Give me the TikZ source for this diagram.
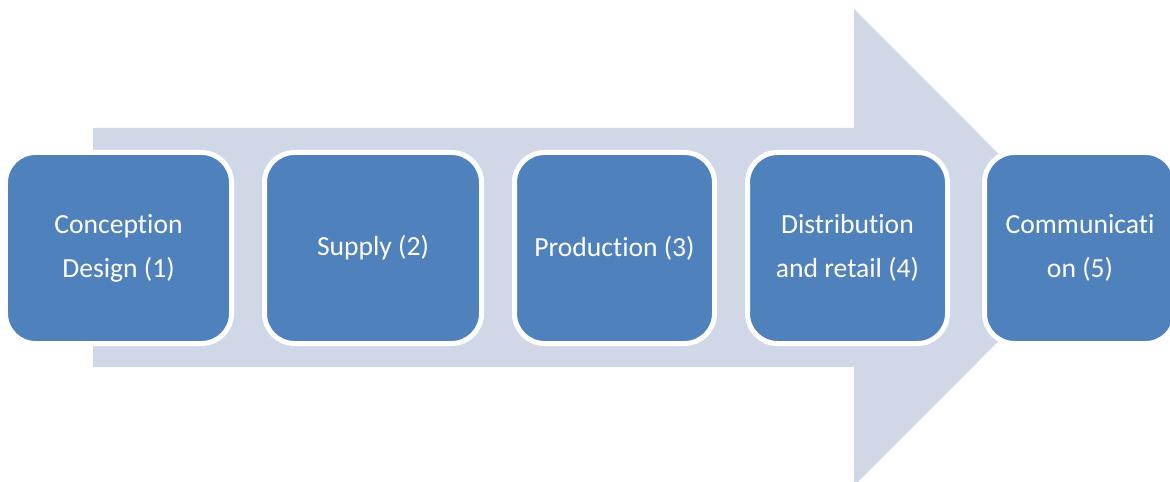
\documentclass[tikz,border=0pt]{standalone}
\usepackage{fontspec}
\setmainfont[Ligatures={NoCommon}]{Carlito}
\definecolor{arrowfill}{HTML}{D0D8E8}
\definecolor{boxfill}{HTML}{4F81BD}
\tikzset{
  stagebox/.style={draw=white, line width=5bp, fill=boxfill, rounded corners=30bp,
    minimum height=191bp, align=center, text=white, inner sep=0pt,
    font=\fontsize{27.6bp}{44bp}\selectfont}
}
\begin{document}
\begin{tikzpicture}[x=1bp,y=-1bp]
\useasboundingbox (0,0) rectangle (1170,482);
\clip (0,0) rectangle (1170,482);
\fill[white] (0,0) rectangle (1170,482);
\fill[arrowfill] (93,128) -- (854,128) -- (854,9) -- (1092,247.5) -- (854,486) -- (854,367) -- (93,367) -- cycle;
\node[stagebox, minimum width=226bp] (s1) at (118.5,248) {Conception\\Design (1)};
\node[stagebox, minimum width=217bp] (s2) at (373,248) {Supply (2)};
\node[stagebox, minimum width=200bp] (s3) at (614.5,248) {Production (3)};
\node[stagebox, minimum width=200bp] (s4) at (847.5,248) {Distribution\\and retail (4)};
\node[stagebox, minimum width=191bp] (s5) at (1080,248) {Communicati\\on (5)};
\end{tikzpicture}
\end{document}
